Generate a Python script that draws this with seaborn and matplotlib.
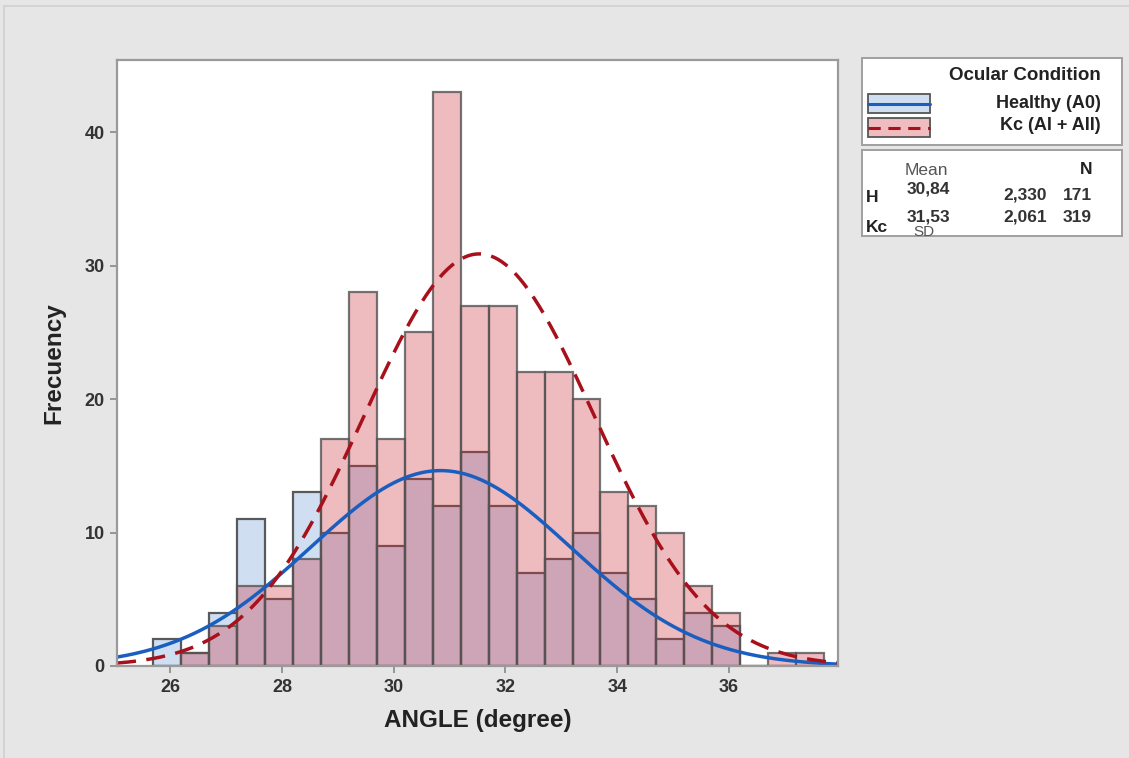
import numpy as np
import pandas as pd
import matplotlib
matplotlib.use("Agg")
import matplotlib.pyplot as plt
from matplotlib.patches import Rectangle
import seaborn as sns

# ---- data ----
bin_edges = [25.7, 26.2, 26.7, 27.2, 27.7, 28.2, 28.7, 29.2, 29.7, 30.2, 30.7, 31.2,
             31.7, 32.2, 32.7, 33.2, 33.7, 34.2, 34.7, 35.2, 35.7, 36.2, 36.7, 37.2, 37.7]
bin_centers = [25.95, 26.45, 26.95, 27.45, 27.95, 28.45, 28.95, 29.45, 29.95, 30.45,
               30.95, 31.45, 31.95, 32.45, 32.95, 33.45, 33.95, 34.45, 34.95, 35.45,
               35.95, 36.45, 36.95, 37.45]
healthy_counts = [2, 1, 4, 11, 5, 13, 10, 15, 9, 14, 12, 16, 12, 7, 8, 10, 7, 5, 2, 4, 3, 0, 0, 0]
kc_counts = [0, 1, 3, 6, 6, 8, 17, 28, 17, 25, 43, 27, 27, 22, 22, 20, 13, 12, 10, 6, 4, 0, 1, 1]
group_names = ["Healthy (A0)", "Kc (AI + AII)"]
means = [30.84, 31.53]
sds = [2.330, 2.061]
ns = [171, 319]
x_ticks = [26, 28, 30, 32, 34, 36]
y_ticks = [0, 10, 20, 30, 40]

bin_width = 0.5
x_min, x_max = 25.05, 37.95

sns.set_theme(style="white")
plt.rcParams['font.family'] = ['Liberation Sans', 'DejaVu Sans']

fig = plt.figure(figsize=(11.29, 7.58), dpi=100, facecolor="#e6e6e6")
# outer frame line
fig.patches.append(Rectangle((4 / 1129, -0.01), 1.2, 1 - 6 / 758 + 0.01, transform=fig.transFigure,
                             fill=False, edgecolor="#d0d0d0", linewidth=1.2))

ax = fig.add_axes([117 / 1129, 1 - 666 / 758, (838 - 117) / 1129, (666 - 60) / 758])
ax.set_facecolor("white")

df_h = pd.DataFrame({"angle": bin_centers, "count": healthy_counts})
df_k = pd.DataFrame({"angle": bin_centers, "count": kc_counts})

light_blue = "#cfdef1"
pink_rgba = (205 / 255, 46 / 255, 58 / 255, 0.32)
edge = "#595959"

sns.histplot(data=df_h, x="angle", weights="count", bins=bin_edges, ax=ax,
             facecolor=light_blue, edgecolor=edge, linewidth=1.6)
sns.histplot(data=df_k, x="angle", weights="count", bins=bin_edges, ax=ax,
             facecolor=pink_rgba, edgecolor=(0.33, 0.33, 0.33, 0.8), linewidth=1.6)

# fitted normal curves
xs = np.linspace(x_min, x_max, 400)
curve_colors = ["#1a5fc0", "#a8101c"]
curve_styles = ["-", "--"]
for i in range(2):
    ys = ns[i] * bin_width * np.exp(-0.5 * ((xs - means[i]) / sds[i]) ** 2) / (sds[i] * np.sqrt(2 * np.pi))
    sns.lineplot(x=xs, y=ys, ax=ax, color=curve_colors[i], linewidth=2.5,
                 linestyle=curve_styles[i])
    if curve_styles[i] == "--":
        ax.lines[-1].set_dashes((5.5, 3))

ax.set_xlim(x_min, x_max)
ax.set_ylim(0, 45.4)
ax.set_xticks(x_ticks)
ax.set_yticks(y_ticks)
ax.set_xticklabels([str(t) for t in x_ticks], fontsize=13, fontweight="bold", color="#333333")
ax.set_yticklabels([str(t) for t in y_ticks], fontsize=13, fontweight="bold", color="#333333")
ax.tick_params(axis="both", which="major", direction="out", length=5, width=1.2,
               color="#888888", pad=4, bottom=True, left=True)
ax.set_xlabel("ANGLE (degree)", fontsize=17.5, fontweight="bold", color="#222222", labelpad=10)
ax.set_ylabel("Frecuency", fontsize=17.5, fontweight="bold", color="#222222", labelpad=14)
for s in ax.spines.values():
    s.set_color("#9a9a9a")
    s.set_linewidth(1.6)

# ---- legend panel 1 ----
lg1 = fig.add_axes([862 / 1129, 1 - 145 / 758, 260 / 1129, 87 / 758])
lg1.set_xlim(0, 260)
lg1.set_ylim(87, 0)
lg1.set_xticks([])
lg1.set_yticks([])
lg1.set_facecolor("white")
for s in lg1.spines.values():
    s.set_color("#a0a0a0")
    s.set_linewidth(1.4)
lg1.text(239, 18, "Ocular Condition", ha="right", va="center", fontsize=13.5,
         fontweight="bold", color="#222222")
lg1.add_patch(Rectangle((6, 36), 62, 19, facecolor=light_blue, edgecolor="#555555", linewidth=1.3))
lg1.plot([6, 68], [45.5, 45.5], color=curve_colors[0], linewidth=2.2)
lg1.add_patch(Rectangle((6, 60), 62, 19, facecolor="#efbcc0", edgecolor="#555555", linewidth=1.3))
lg1.plot([6, 68], [69.5, 69.5], color=curve_colors[1], linewidth=2.2, dashes=(4, 2.5))
lg1.text(239, 45, group_names[0], ha="right", va="center", fontsize=13, fontweight="bold", color="#222222")
lg1.text(239, 68, group_names[1], ha="right", va="center", fontsize=13, fontweight="bold", color="#222222")

# ---- legend panel 2 (statistics) ----
lg2 = fig.add_axes([862 / 1129, 1 - 236 / 758, 260 / 1129, 86 / 758])
lg2.set_xlim(0, 260)
lg2.set_ylim(86, 0)
lg2.set_xticks([])
lg2.set_yticks([])
lg2.set_facecolor("white")
for s in lg2.spines.values():
    s.set_color("#a0a0a0")
    s.set_linewidth(1.4)
lg2.text(64, 21, "Mean", ha="center", va="center", fontsize=12.5, color="#555555")
lg2.text(230, 20, "N", ha="right", va="center", fontsize=12.5, fontweight="bold", color="#222222")
row_y = [45, 67]
mean_y = [39, 67]
row_labels = ["H", "Kc"]
label_y = [48, 78]
for i in range(2):
    lg2.text(4, label_y[i], row_labels[i], ha="left", va="center", fontsize=12.5,
             fontweight="bold", color="#222222")
    lg2.text(66, mean_y[i], f"{means[i]:.2f}".replace(".", ","), ha="center", va="center",
             fontsize=12.5, fontweight="bold", color="#333333")
    lg2.text(185, row_y[i], f"{sds[i]:.3f}".replace(".", ","), ha="right", va="center",
             fontsize=12.5, fontweight="bold", color="#333333")
    lg2.text(230, row_y[i], str(ns[i]), ha="right", va="center",
             fontsize=12.5, fontweight="bold", color="#333333")
lg2.text(62, 82, "SD", ha="center", va="center", fontsize=11, color="#555555")

fig.savefig("out.png", dpi=100, facecolor=fig.get_facecolor())
